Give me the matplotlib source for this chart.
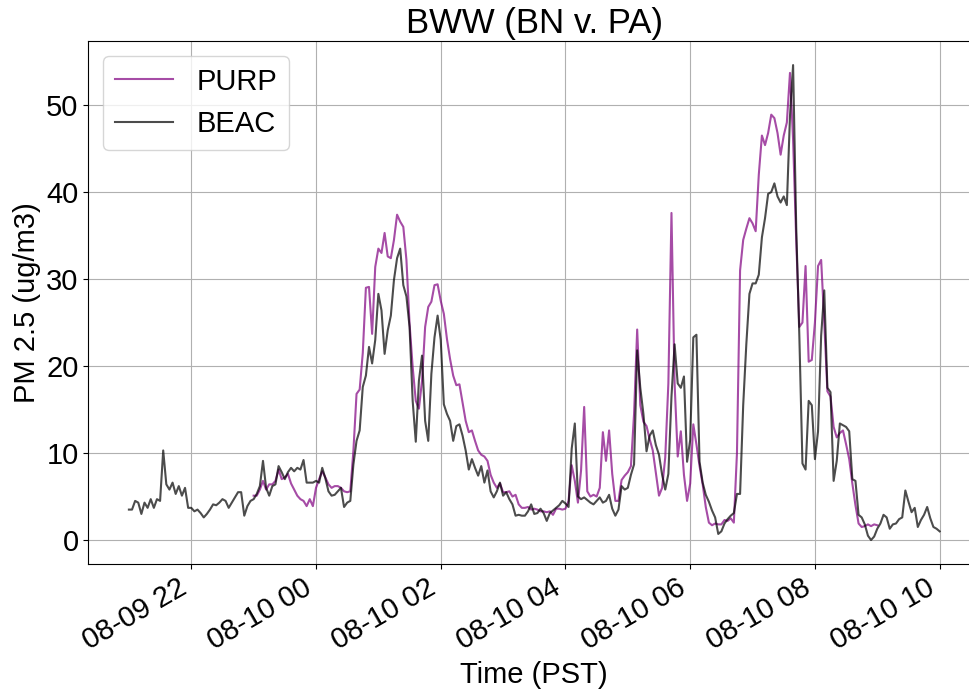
import matplotlib
matplotlib.use("Agg")
import matplotlib.pyplot as plt
import matplotlib.dates as mdates
import numpy as np
import pandas as pd

plt.rcParams['font.family'] = ['Liberation Sans', 'DejaVu Sans']

# readings every 3 minutes (PST)
beac_start = '2020-08-09 21:00'
purp_start = '2020-08-09 23:00'

beac = [
    # 21h
    3.5, 3.5, 4.5, 4.3, 3.0, 4.3, 3.7, 4.7, 3.7, 4.7, 4.5, 10.3, 6.4, 5.8, 6.6, 5.3, 6.2, 5.1, 6.0, 3.7,
    # 22h
    3.7, 3.3, 3.5, 3.1, 2.6, 3.0, 3.5, 4.1, 4.0, 4.3, 4.7, 4.5, 3.7, 4.3, 4.9, 5.5, 5.5, 2.8, 3.9, 4.5,
    # 23h
    4.7, 5.3, 6.2, 9.1, 6.0, 5.1, 6.2, 6.4, 8.5, 7.8, 7.0, 7.8, 8.3, 7.9, 8.3, 8.1, 9.2, 6.6, 6.6, 6.6,
    # 00h
    6.8, 6.6, 8.3, 7.1, 5.6, 5.1, 5.2, 5.6, 6.0, 3.8, 4.3, 4.5, 8.7, 11.4, 12.6, 17.6, 18.9, 22.2, 20.3, 23.0,
    # 01h
    28.3, 26.4, 21.4, 24.1, 25.8, 29.9, 32.4, 33.5, 29.3, 28.0, 24.5, 16.0, 11.3, 18.3, 21.2, 13.7, 11.4, 19.1, 23.3, 25.8,
    # 02h
    23.0, 15.6, 14.5, 13.7, 11.4, 13.1, 13.3, 12.0, 10.3, 8.1, 9.3, 8.3, 7.4, 8.5, 6.6, 8.0, 5.6, 4.9, 5.6, 6.6,
    # 03h
    5.1, 5.5, 4.7, 4.1, 2.8, 2.9, 2.8, 2.8, 3.3, 4.1, 3.0, 3.1, 3.6, 3.1, 2.2, 3.1, 3.4, 3.7, 4.0, 4.5,
    # 04h
    4.2, 3.8, 10.5, 13.4, 5.0, 4.7, 4.9, 4.6, 4.3, 4.1, 4.5, 4.9, 4.3, 4.5, 5.2, 3.6, 2.8, 3.5, 6.2, 5.8,
    # 05h
    6.0, 7.5, 8.7, 21.8, 17.5, 14.5, 10.2, 12.0, 12.6, 10.9, 9.8, 7.5, 5.8, 7.6, 16.5, 22.5, 18.0, 17.5, 18.8, 9.0,
    # 06h
    11.5, 23.3, 23.6, 9.0, 6.6, 5.2, 4.4, 3.4, 2.6, 0.7, 1.0, 1.9, 2.4, 2.8, 3.1, 5.3, 5.3, 15.5, 22.5, 28.3,
    # 07h
    29.5, 29.5, 30.5, 34.8, 37.0, 39.8, 40.0, 41.0, 39.5, 38.8, 39.5, 38.5, 48.7, 54.6, 36.0, 23.5, 8.8, 8.1, 16.0, 15.5,
    # 08h
    9.3, 12.5, 23.5, 28.7, 17.5, 17.0, 6.8, 9.1, 13.4, 13.2, 13.0, 12.5, 7.0, 6.8, 2.9, 2.6, 1.8, 0.5, 0.0, 0.4,
    # 09h
    1.3, 1.9, 2.9, 2.6, 1.3, 1.8, 1.9, 2.4, 2.6, 5.7, 4.4, 3.2, 3.7, 1.5, 2.3, 2.9, 3.8, 2.5, 1.5, 1.3,
    # 10h
    1.0,
]

purp = [
    # 23h
    5.1, 5.1, 5.8, 6.8, 5.8, 6.4, 6.4, 6.8, 8.1, 7.0, 7.2, 7.6, 6.5, 5.8, 5.1, 4.7, 4.5, 3.9, 4.7, 3.9,
    # 00h
    6.0, 7.0, 7.9, 7.2, 6.4, 6.0, 6.2, 6.2, 6.0, 5.6, 5.5, 5.6, 10.3, 16.8, 17.3, 21.5, 29.0, 29.1, 23.7, 31.4,
    # 01h
    33.5, 33.0, 35.3, 32.6, 32.4, 34.5, 37.4, 36.6, 36.0, 32.2, 24.9, 19.9, 16.0, 15.1, 18.3, 24.5, 26.8, 27.4, 29.3, 29.4,
    # 02h
    27.5, 26.0, 23.1, 20.8, 18.9, 17.8, 17.9, 15.8, 13.7, 12.4, 12.6, 11.4, 10.3, 9.8, 9.6, 9.1, 7.5, 6.6, 6.0, 6.5,
    # 03h
    5.5, 5.5, 5.6, 5.0, 5.2, 4.1, 3.7, 3.7, 3.8, 3.5, 3.6, 3.5, 3.3, 3.3, 3.2, 3.3, 2.9, 3.6, 3.6, 3.5,
    # 04h
    3.6, 4.5, 8.6, 6.8, 4.3, 8.0, 15.3, 5.6, 5.0, 5.2, 5.0, 6.0, 12.4, 9.1, 12.6, 7.6, 4.5, 4.5, 6.9, 7.4,
    # 05h
    7.8, 8.5, 14.5, 24.2, 15.5, 13.6, 13.1, 11.6, 10.3, 7.7, 5.1, 6.0, 9.5, 18.0, 37.6, 18.0, 9.6, 12.5, 7.5, 4.5,
    # 06h
    6.5, 13.3, 11.0, 8.5, 6.4, 3.8, 2.0, 1.7, 1.9, 1.8, 1.8, 2.3, 2.2, 2.5, 2.0, 10.0, 31.0, 34.5, 35.8, 37.0,
    # 07h
    36.4, 35.5, 42.0, 46.5, 45.4, 46.8, 48.9, 48.5, 46.8, 44.3, 46.5, 48.0, 53.7, 46.0, 34.5, 24.5, 25.0, 31.5, 20.5, 20.7,
    # 08h
    25.0, 31.5, 32.2, 25.0, 17.1, 16.5, 13.0, 11.8, 12.3, 12.6, 11.0, 9.3, 6.5, 4.0, 1.9, 1.5, 1.6, 1.8, 1.6, 1.8,
    # 09h
    1.7,
]

beac_time = pd.date_range(beac_start, periods=len(beac), freq='3min')
purp_time = pd.date_range(purp_start, periods=len(purp), freq='3min')

fig = plt.figure(figsize=(9.7, 6.91), dpi=100)
ax = fig.add_axes([0.0911, 0.1841, 0.9194, 0.7561])

ax.plot(purp_time, purp, color='purple', alpha=0.7, lw=1.5, label='PURP')
ax.plot(beac_time, beac, color='k', alpha=0.7, lw=1.5, label='BEAC')

ax.xaxis.set_major_locator(mdates.HourLocator(byhour=range(0, 24, 2)))
ax.xaxis.set_major_formatter(mdates.DateFormatter('%m-%d %H'))
plt.setp(ax.get_xticklabels(), rotation=30, ha='right')
ax.tick_params(labelsize=21)

ax.grid(True)
ax.set_title('BWW (BN v. PA)', fontsize=25)
ax.set_xlabel('Time (PST)', fontsize=21)
ax.set_ylabel('PM 2.5 (ug/m3)', fontsize=21)
ax.legend(loc='upper left', fontsize=21)

fig.savefig('out.png', dpi=100)
